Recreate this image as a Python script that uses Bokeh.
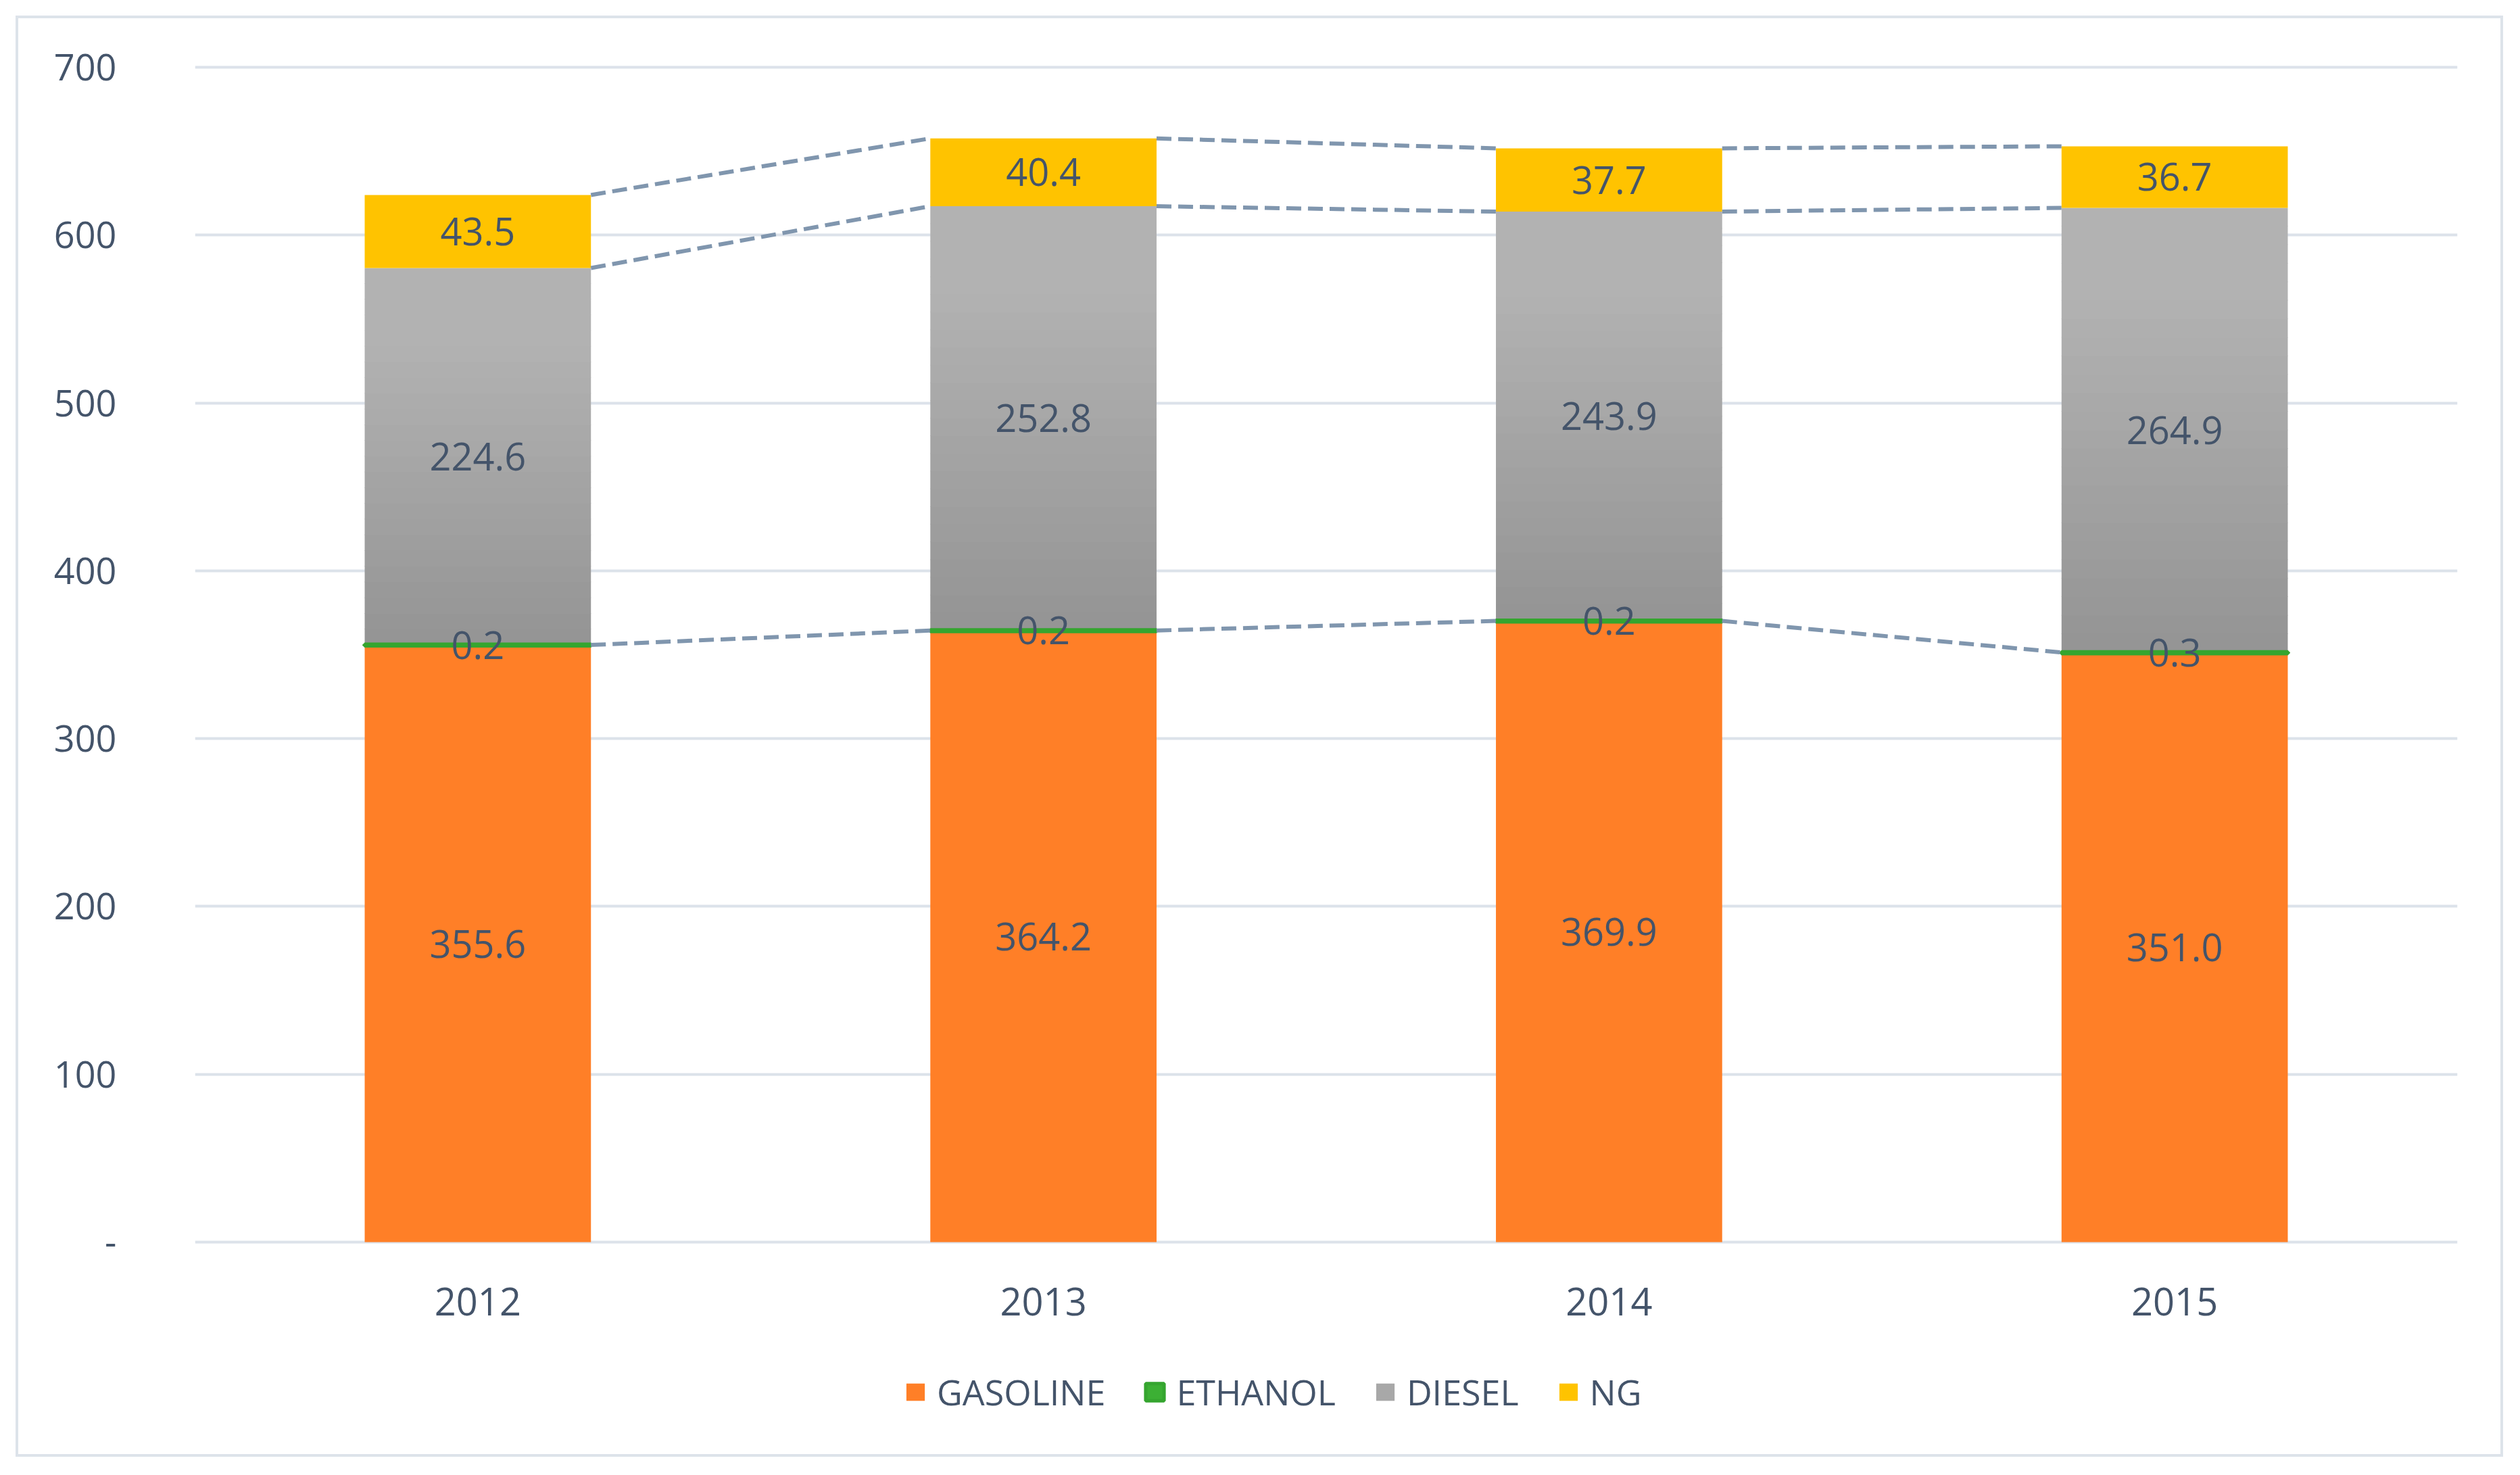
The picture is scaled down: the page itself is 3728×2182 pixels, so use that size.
from bokeh.plotting import figure
from bokeh.layouts import column
from bokeh.models import ColumnDataSource, Legend, LegendItem, FixedTicker, FactorRange, Range1d
from bokeh.transform import dodge
from bokeh.core.properties import value
from bokeh.embed import file_html
from bokeh.resources import INLINE

# ---------------- data ----------------
years = ["2012", "2013", "2014", "2015"]
gasoline = [355.6, 364.2, 369.9, 351.0]
ethanol = [0.2, 0.2, 0.2, 0.3]
diesel = [224.6, 252.8, 243.9, 264.9]
ng = [43.5, 40.4, 37.7, 36.7]
series_names = ["GASOLINE", "ETHANOL", "DIESEL", "NG"]
y_ticks = [0, 100, 200, 300, 400, 500, 600, 700]

# ---------------- styles ----------------
C_GAS = "#FF7F27"
C_ETH = "#3CB034"
C_ETH_LINE = "#35A52F"
C_NG = "#FFC300"
DIESEL_TOP = (0xB2, 0xB2, 0xB2)
DIESEL_BOT = (0x94, 0x94, 0x94)
TXT = "#44546A"
GRID = "#DCE2EA"
SERIES_LINE = "#8096AE"
FONT = "Open Sans"
BAR_W = 0.4
W = 3726

p = figure(
    x_range=FactorRange(*years, range_padding=0),
    y_range=Range1d(-2, 702),
    frame_width=3347, frame_height=1748,
    min_border_left=288, min_border_right=W - 288 - 3347,
    min_border_top=94, min_border_bottom=150,
    toolbar_location=None, output_backend="svg",
)
p.x_range.factor_padding = 0
p.background_fill_color = "white"
p.border_fill_color = None
p.outline_line_color = None

# axes
p.yaxis.ticker = FixedTicker(ticks=y_ticks)
p.yaxis.major_label_overrides = {0: "-"}
p.yaxis.axis_line_color = None
p.yaxis.major_tick_line_color = None
p.yaxis.minor_tick_line_color = None
p.yaxis.major_label_standoff = 110
p.yaxis.major_label_text_font = FONT
p.yaxis.major_label_text_font_size = "54px"
p.yaxis.major_label_text_color = TXT

p.xaxis.axis_line_color = None
p.xaxis.major_tick_line_color = None
p.xaxis.minor_tick_line_color = None
p.xaxis.major_label_standoff = 56
p.xaxis.major_label_text_font = FONT
p.xaxis.major_label_text_font_size = "56px"
p.xaxis.major_label_text_color = TXT

p.xgrid.grid_line_color = None
p.ygrid.grid_line_color = GRID
p.ygrid.grid_line_width = 4

# ---------------- bars ----------------
base_eth = [g for g in gasoline]
top_eth = [g + e for g, e in zip(gasoline, ethanol)]
top_dsl = [t + d for t, d in zip(top_eth, diesel)]
top_ng = [t + n for t, n in zip(top_dsl, ng)]

gas_src = ColumnDataSource(dict(x=years, bottom=[0] * 4, top=gasoline))
GAS_KW = dict(fill_color=C_GAS, line_color=None)
p.vbar(x="x", bottom="bottom", top="top", width=BAR_W, source=gas_src, **GAS_KW)

# diesel with vertical gradient (bands computed from each diesel segment)
N = 24
bx, bb, bt, bc = [], [], [], []
for i, y in enumerate(years):
    for k in range(N):
        f0 = k / N
        f1 = (k + 1) / N
        bx.append(y)
        bb.append(top_eth[i] + diesel[i] * f0)
        bt.append(top_eth[i] + diesel[i] * f1 + (0.3 if k < N - 1 else 0))
        fm = min(1.0, ((k + 0.5) / N) * 1.25)
        rgb = tuple(int(round(DIESEL_BOT[j] + (DIESEL_TOP[j] - DIESEL_BOT[j]) * fm)) for j in range(3))
        bc.append("#%02X%02X%02X" % rgb)
dsl_src = ColumnDataSource(dict(x=bx, bottom=bb, top=bt, color=bc))
DSL_KW = dict(fill_color="color", line_color=None)
p.vbar(x="x", bottom="bottom", top="top", width=BAR_W, source=dsl_src, **DSL_KW)

ng_src = ColumnDataSource(dict(x=years, bottom=top_dsl, top=top_ng))
NG_KW = dict(fill_color=C_NG, line_color=None)
p.vbar(x="x", bottom="bottom", top="top", width=BAR_W, source=ng_src, **NG_KW)

eth_src = ColumnDataSource(dict(x=years, bottom=base_eth, top=top_eth))
ETH_KW = dict(fill_color=C_ETH, line_color=C_ETH_LINE, line_width=7)
p.vbar(x="x", bottom="bottom", top="top", width=BAR_W, source=eth_src, **ETH_KW)

# ---------------- series lines ----------------
sx0, sx1, sy0, sy1 = [], [], [], []
for level in (top_eth, top_dsl, top_ng):
    for i in range(len(years) - 1):
        sx0.append(years[i]); sx1.append(years[i + 1])
        sy0.append(level[i]); sy1.append(level[i + 1])
ser_src = ColumnDataSource(dict(x0=sx0, x1=sx1, y0=sy0, y1=sy1))
p.segment(x0=dodge("x0", BAR_W / 2, range=p.x_range), y0="y0",
          x1=dodge("x1", -BAR_W / 2, range=p.x_range), y1="y1",
          source=ser_src, line_color=SERIES_LINE, line_width=6, line_dash="22 10")

# ---------------- data labels ----------------
lx, ly, lt = [], [], []
for i, y in enumerate(years):
    lx += [y] * 4
    ly += [gasoline[i] / 2, (base_eth[i] + top_eth[i]) / 2,
           top_eth[i] + diesel[i] / 2, top_dsl[i] + ng[i] / 2]
    lt += ["%.1f" % gasoline[i], "%.1f" % ethanol[i], "%.1f" % diesel[i], "%.1f" % ng[i]]
lab_src = ColumnDataSource(dict(x=lx, y=ly, t=lt))
p.text(x="x", y="y", text="t", source=lab_src, text_align="center",
       text_baseline="middle", text_font=value(FONT), text_font_size="56px",
       text_color=TXT)

# ---------------- legend strip (hidden copies of the series supply the key swatches) ----------------
lg = figure(width=W, height=186, x_range=FactorRange(*years), y_range=Range1d(0, 1000),
            x_axis_type=None, y_axis_type=None, toolbar_location=None,
            output_backend="svg", min_border=0)
lg.min_border_left = lg.min_border_right = lg.min_border_top = lg.min_border_bottom = 0
lg.background_fill_color = None
lg.border_fill_color = None
lg.outline_line_color = None
lg.grid.visible = False

k_gas = lg.vbar(x="x", bottom="bottom", top="top", width=BAR_W, source=gas_src, **GAS_KW)
k_eth = lg.vbar(x="x", bottom="bottom", top="top", width=BAR_W, source=eth_src,
                fill_color=C_ETH, line_color=C_ETH_LINE, line_width=5)
k_dsl = lg.vbar(x="x", bottom="bottom", top="top", width=BAR_W, source=dsl_src, **DSL_KW)
k_ng = lg.vbar(x="x", bottom="bottom", top="top", width=BAR_W, source=ng_src, **NG_KW)
for r in (k_gas, k_eth, k_dsl, k_ng):
    r.visible = False

legend = Legend(
    items=[
        LegendItem(label=series_names[0], renderers=[k_gas], index=0),
        LegendItem(label=series_names[1], renderers=[k_eth], index=0),
        LegendItem(label=series_names[2], renderers=[k_dsl], index=N // 2),
        LegendItem(label=series_names[3], renderers=[k_ng], index=0),
    ],
    orientation="horizontal",
    location=(1049, 84),
    glyph_width=34, glyph_height=32,
    label_standoff=15, spacing=56,
    padding=0, margin=0,
    border_line_color=None, background_fill_alpha=0,
    inactive_fill_alpha=0,
    label_text_font=FONT, label_text_font_size="52px",
    label_text_color=TXT, label_height=32,
)
lg.add_layout(legend, "center")

page = column(p, lg, spacing=0)
page.styles = {"outline": "4px solid #DDE3EA", "outline-offset": "-27px"}

open("out.html", "w").write(file_html(page, INLINE))
